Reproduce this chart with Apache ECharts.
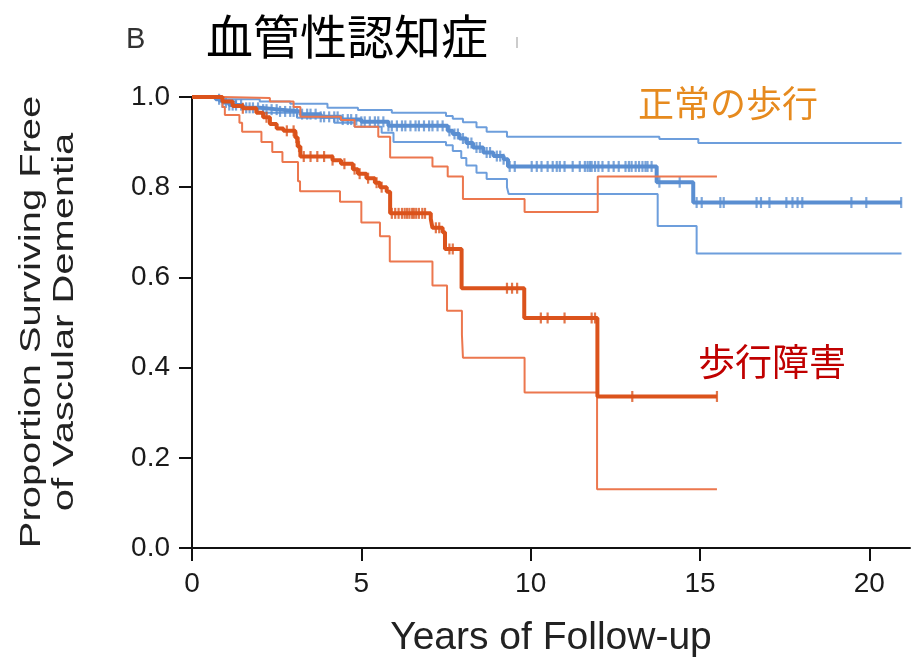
<!DOCTYPE html>
<html>
<head>
<meta charset="utf-8">
<script src="https://cdn.jsdelivr.net/npm/echarts@6/dist/echarts.min.js"></script>
<style>html,body{margin:0;padding:0;background:#fff;}#c{width:913px;height:663px;}</style>
</head>
<body>
<div id="c"></div>
<script>
// ---- data (time in years, survival proportion) ----
const xTicks = [0, 5, 10, 15, 20];
const blueMain = [[0,1.0],[0.7,0.995],[0.9,0.988],[1.1,0.982],[1.5,0.976],[2.0,0.972],[2.6,0.968],[3.2,0.962],[3.8,0.956],[4.4,0.95],[5.0,0.945],[5.8,0.936],[7.55,0.925],[7.7,0.918],[7.9,0.908],[8.1,0.898],[8.3,0.888],[8.6,0.877],[8.9,0.869],[9.2,0.862],[9.33,0.846],[13.72,0.811],[14.8,0.766],[20.95,0.766]];
const blueUpper = [[0,1.0],[0.8,0.995],[2.0,0.99],[2.9,0.985],[4.0,0.976],[4.9,0.971],[5.9,0.965],[7.5,0.958],[7.7,0.952],[8.0,0.944],[8.4,0.933],[8.7,0.923],[9.3,0.912],[13.8,0.907],[14.95,0.898],[20.95,0.898]];
const blueLower = [[0,1.0],[0.8,0.99],[1.3,0.978],[2.1,0.965],[3.1,0.954],[4.2,0.943],[4.8,0.934],[5.6,0.921],[5.95,0.90],[7.5,0.893],[7.7,0.88],[7.95,0.865],[8.1,0.848],[8.4,0.832],[8.7,0.818],[9.3,0.80],[9.35,0.785],[13.75,0.714],[14.9,0.653],[20.95,0.653]];
const redMain = [[0,1.0],[0.9,0.99],[1.2,0.98],[1.5,0.975],[1.9,0.965],[2.1,0.955],[2.3,0.94],[2.5,0.93],[2.7,0.925],[3.05,0.91],[3.12,0.89],[3.2,0.868],[4.15,0.86],[4.4,0.852],[4.75,0.84],[4.9,0.83],[5.15,0.82],[5.4,0.81],[5.55,0.80],[5.75,0.79],[5.85,0.742],[7.05,0.73],[7.1,0.71],[7.4,0.70],[7.47,0.663],[7.96,0.576],[9.81,0.51],[11.97,0.336],[15.5,0.336]];
const redUpper = [[0,1.0],[0.9,0.998],[2.3,0.99],[3.0,0.978],[3.2,0.956],[4.4,0.949],[4.8,0.934],[5.5,0.912],[5.85,0.866],[7.1,0.846],[7.55,0.824],[8.0,0.774],[9.82,0.745],[11.98,0.824],[15.5,0.824]];
const redLower = [[0,1.0],[0.9,0.978],[0.97,0.96],[1.4,0.943],[1.48,0.923],[2.05,0.90],[2.37,0.878],[2.67,0.856],[3.13,0.813],[3.19,0.791],[4.37,0.768],[5.0,0.722],[5.55,0.691],[5.84,0.635],[7.1,0.582],[7.53,0.526],[7.97,0.473],[8.0,0.422],[9.82,0.345],[11.96,0.13],[15.5,0.13]];
const blueCensor = [0.8,0.9,1.0,1.1,1.2,1.3,1.45,1.6,1.7,1.8,1.95,2.1,2.2,2.35,2.5,2.6,2.75,2.9,3.0,3.1,3.25,3.4,3.5,3.65,3.8,3.9,4.05,4.2,4.3,4.45,4.6,4.7,4.85,5.0,5.1,5.25,5.4,5.5,5.65,5.8,5.9,6.05,6.2,6.3,6.45,6.6,6.7,6.85,7.0,7.1,7.25,7.4,7.6,7.75,7.85,8.0,8.15,8.25,8.4,8.5,8.7,8.8,9.0,9.1,9.2,9.38,9.53,10.03,10.18,10.32,10.5,10.65,10.77,10.86,11.0,11.24,11.45,11.6,11.68,11.75,11.8,11.9,12.0,12.12,12.3,12.45,12.6,12.8,12.9,12.98,13.1,13.2,13.3,13.39,13.45,13.57,13.8,14.4,14.9,15.05,15.6,15.7,16.67,16.8,17.05,17.55,17.73,17.88,18.02,19.47,19.91,20.94];
const redCensor = [1.5,2.2,2.8,3.0,3.08,3.16,3.3,3.5,3.7,3.9,4.15,4.5,4.8,4.95,5.2,5.45,5.6,5.9,6.0,6.1,6.2,6.28,6.35,6.42,6.5,6.55,6.62,6.7,6.8,6.88,7.2,7.3,7.6,7.7,9.3,9.45,9.6,10.3,10.5,11.0,11.8,11.9,13.0,15.5];

function survAt(curve, t) {
  let v = curve[0][1];
  for (const p of curve) { if (p[0] <= t) v = p[1]; }
  return v;
}
const BLUE = '#5a8ed1', BLUE_CI = '#6d9edc', RED = '#db531c', RED_CI = '#ec774e';

function stepLine(data, color, width, z) {
  return { type: 'line', step: 'end', data: data, symbol: 'none', silent: true, z: z,
    lineStyle: { color: color, width: width }, animation: false };
}
function censor(times, curve, color, z) {
  return { type: 'scatter', data: times.map(t => [t, survAt(curve, t)]), symbol: 'rect',
    symbolSize: [2.2, 11], itemStyle: { color: color }, silent: true, z: z, animation: false };
}

const chart = echarts.init(document.getElementById('c'), null, { renderer: 'canvas' });
chart.setOption({
  backgroundColor: '#fff',
  animation: false,
  grid: { left: 192, right: 3, top: 97, bottom: 111, containLabel: false },
  xAxis: {
    type: 'value', min: 0, max: 21.2, interval: 5,
    name: 'Years of Follow-up', nameLocation: 'middle', nameGap: 71,
    nameTextStyle: { fontFamily: 'Liberation Sans, Arial, sans-serif', fontSize: 39, color: '#222' },
    axisLine: { show: true, onZero: false, lineStyle: { color: '#111', width: 2 } },
    axisTick: { show: true, length: 13, lineStyle: { color: '#111', width: 2 }, customValues: xTicks },
    axisLabel: { customValues: xTicks, margin: 22, fontFamily: 'Liberation Sans, Arial, sans-serif', fontSize: 28, color: '#1a1a1a' },
    splitLine: { show: false }
  },
  yAxis: {
    type: 'value', min: 0, max: 1, interval: 0.2,
    axisLine: { show: true, onZero: false, lineStyle: { color: '#111', width: 2 } },
    axisTick: { show: true, length: 13, lineStyle: { color: '#111', width: 2 } },
    axisLabel: { margin: 22, formatter: v => v.toFixed(1), fontFamily: 'Liberation Sans, Arial, sans-serif', fontSize: 28, color: '#1a1a1a' },
    splitLine: { show: false }
  },
  series: [
    stepLine(blueUpper, BLUE_CI, 2, 2),
    stepLine(blueLower, BLUE_CI, 2, 2),
    stepLine(blueMain, BLUE, 4, 3),
    censor(blueCensor, blueMain, BLUE, 4),
    stepLine(redUpper, RED_CI, 2, 5),
    stepLine(redLower, RED_CI, 2, 5),
    stepLine(redMain, RED, 4, 6),
    censor(redCensor, redMain, RED, 7)
  ],
  graphic: [
    { type: 'text', left: 126, top: 25, style: { text: 'B', font: '29px "Liberation Sans", Arial, sans-serif', fill: '#333' } },
    { type: 'text', x: 206, y: 36, style: { text: '血管性認知症', font: '47px "Noto Sans CJK JP", sans-serif', fill: '#000', textVerticalAlign: 'middle' } },
    { type: 'line', shape: { x1: 517, y1: 37, x2: 517, y2: 48 }, style: { stroke: '#bbb', lineWidth: 1.5 } },
    { type: 'text', x: 48, y: 322, rotation: Math.PI / 2, scaleX: 1.33,
      style: { text: 'Proportion Surviving Free\nof Vascular Dementia', font: '30px "Liberation Sans", Arial, sans-serif', lineHeight: 33, fill: '#222', textAlign: 'center', textVerticalAlign: 'middle' } },
    { type: 'text', x: 638, y: 103, style: { text: '正常の歩行', font: '36px "Noto Sans CJK JP", sans-serif', fill: '#e68a1e', textVerticalAlign: 'middle' } },
    { type: 'text', x: 698, y: 362, style: { text: '歩行障害', font: '37px "Noto Sans CJK JP", sans-serif', fill: '#c00000', textVerticalAlign: 'middle' } }
  ]
});
</script>
</body>
</html>
